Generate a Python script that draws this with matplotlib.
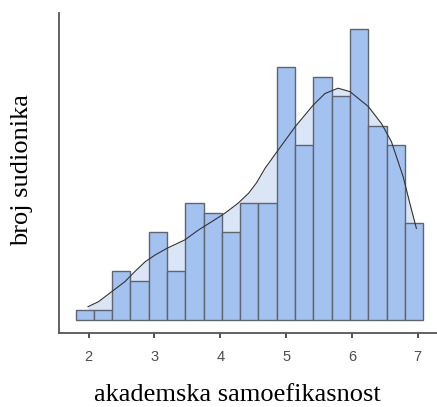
import numpy as np
import matplotlib
matplotlib.use("Agg")
import matplotlib.pyplot as plt

# Histogram data
bin_start = 1.8
bin_width = 0.278
counts = [1, 1, 5, 4, 9, 5, 12, 11, 9, 12, 12, 26, 18, 25, 23, 30, 20, 18, 10]

# Density curve (scaled to counts)
curve_x = [1.99, 2.15, 2.35, 2.55, 2.70, 2.86, 3.01, 3.19, 3.46, 3.67, 3.87, 4.07,
           4.27, 4.43, 4.55, 4.68, 4.86, 5.14, 5.41, 5.59, 5.79, 5.97, 6.25, 6.45,
           6.60, 6.78, 6.88, 6.98]
curve_y = [1.34, 1.86, 2.89, 3.92, 4.95, 5.98, 6.67, 7.36, 8.22, 9.25, 10.1, 10.97,
           12.0, 13.03, 14.1, 15.6, 17.3, 19.9, 22.1, 23.3, 23.85, 23.5, 21.96, 20.2,
           18.35, 14.7, 12.0, 9.4]

xticks = [2, 3, 4, 5, 6, 7]
xlabel = "akademska samoefikasnost"
ylabel = "broj sudionika"

W, H = 437, 407
fig = plt.figure(figsize=(W / 100, H / 100), dpi=100)
ax = fig.add_axes([59 / W, 1 - 333 / H, (W - 59) / W, (333 - 13) / H])

edges = bin_start + bin_width * np.arange(len(counts) + 1)
ax.fill_between(curve_x, curve_y, 0, color="#dae5f6", zorder=1, linewidth=0)
ax.bar(edges[:-1], counts, width=bin_width, align="edge", color="#a4c2f0",
       edgecolor="#5f6570", linewidth=1.0, zorder=2)
ax.plot(curve_x, curve_y, color="#333333", linewidth=0.8, zorder=3)

ax.set_xlim(1.549, 7.293)
ax.set_ylim(-1.37, 31.6)
ax.set_xticks(xticks)
ax.set_xticklabels([str(t) for t in xticks], fontsize=10.5, color="#4d4d4d",
                   family="Liberation Sans")
ax.set_yticks([])
ax.tick_params(axis="x", length=3.5, width=1.2, color="#333333", pad=9)
for s in ["top", "right"]:
    ax.spines[s].set_visible(False)
for s in ["left", "bottom"]:
    ax.spines[s].set_color("#555555")
    ax.spines[s].set_linewidth(1.3)

fig.text(237 / W, 1 - 395 / H, xlabel, ha="center", va="center",
         fontsize=19, family="Liberation Serif", color="black")
fig.text(22 / W, 1 - 170 / H, ylabel, ha="center", va="center", rotation=90,
         fontsize=19, family="Liberation Serif", color="black")

fig.savefig("out.png", dpi=100)
